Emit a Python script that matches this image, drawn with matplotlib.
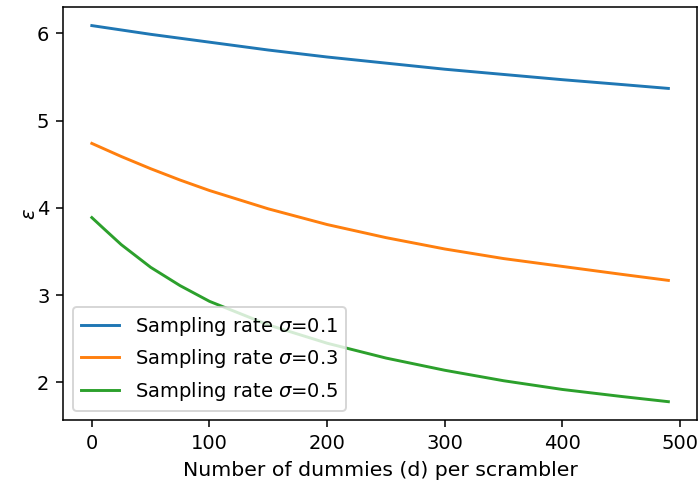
import matplotlib
matplotlib.use("Agg")
import matplotlib.pyplot as plt

# dummies per scrambler (x) and epsilon
dummies = [0, 10, 25, 50, 75, 100, 150, 200, 250, 300, 350, 400, 450, 490]
eps_01 = [6.09, 6.07, 6.04, 5.99, 5.945, 5.90, 5.81, 5.73, 5.66, 5.59, 5.53, 5.47, 5.415, 5.37]
eps_03 = [4.74, 4.68, 4.59, 4.45, 4.32, 4.20, 3.99, 3.81, 3.66, 3.53, 3.42, 3.33, 3.24, 3.17]
eps_05 = [3.89, 3.765, 3.58, 3.32, 3.11, 2.93, 2.66, 2.45, 2.28, 2.14, 2.02, 1.92, 1.84, 1.78]
labels = [r"Sampling rate $\sigma$=0.1", r"Sampling rate $\sigma$=0.3", r"Sampling rate $\sigma$=0.5"]


def main():
    fig, ax = plt.subplots(figsize=(5, 485 / 140), dpi=140)
    for ys, lab in zip([eps_01, eps_03, eps_05], labels):
        ax.plot(dummies, ys, label=lab)

    ax.set_xlabel("Number of dummies (d) per scrambler", fontsize=10.5)
    ax.set_ylabel(r"$\epsilon$", labelpad=-1)
    ax.set_xticks([0, 100, 200, 300, 400, 500])
    ax.legend(loc="lower left", fontsize=10)

    fig.subplots_adjust(left=0.09, right=0.996, top=0.986, bottom=0.133)
    fig.savefig("out.png", dpi=140)


if __name__ == "__main__":
    main()
